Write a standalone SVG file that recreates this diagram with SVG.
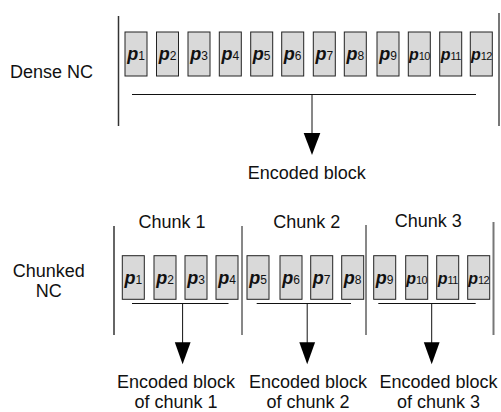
<svg xmlns="http://www.w3.org/2000/svg" width="501" height="412" viewBox="0 0 501 412">
<defs>
<style>
.lbl{font-family:"Liberation Sans",Arial,sans-serif;font-size:18px;fill:#111;text-anchor:middle}
.box{fill:#d9d9d9;stroke:#222;stroke-width:1}
.pt{font-family:"Liberation Sans",Arial,sans-serif;text-anchor:middle;fill:#111}
.p{font-weight:bold;font-style:italic;font-size:18px}
.s{font-size:12px}
.p2{font-weight:bold;font-style:italic;font-size:16px}
.s2{font-size:11px;letter-spacing:-0.6px}
.ln{stroke:#111;stroke-width:1;fill:none}
.outer{stroke:#333;stroke-width:1.5;fill:none}
.outerR{stroke:#777;stroke-width:2;fill:none}
.head{fill:#000}
</style>
</defs>
<rect width="501" height="412" fill="#fff"/>

<g id="labels">
<text class="lbl" x="51.5" y="77.5">Dense NC</text>
<text class="lbl" x="306.7" y="179">Encoded block</text>
<text class="lbl" x="48.8" y="276.7">Chunked</text>
<text class="lbl" x="48.8" y="296.7">NC</text>
<text class="lbl" x="172" y="228">Chunk 1</text>
<text class="lbl" x="306.8" y="228">Chunk 2</text>
<text class="lbl" x="428.3" y="226.7">Chunk 3</text>
<text class="lbl" x="176" y="387.5">Encoded block</text>
<text class="lbl" x="176" y="408.3">of chunk 1</text>
<text class="lbl" x="308" y="387.5">Encoded block</text>
<text class="lbl" x="308" y="408.3">of chunk 2</text>
<text class="lbl" x="438.5" y="387.5">Encoded block</text>
<text class="lbl" x="438.5" y="408.3">of chunk 3</text>
</g>

<g id="dense-blocks">
<g id="d1"><rect class="box" x="125" y="32" width="22" height="44"/><text class="pt" x="136" y="60"><tspan class="p">p</tspan><tspan class="s">1</tspan></text></g>
<g id="d2"><rect class="box" x="156.5" y="32" width="22" height="44"/><text class="pt" x="167.5" y="60"><tspan class="p">p</tspan><tspan class="s">2</tspan></text></g>
<g id="d3"><rect class="box" x="188" y="32" width="22" height="44"/><text class="pt" x="199" y="60"><tspan class="p">p</tspan><tspan class="s">3</tspan></text></g>
<g id="d4"><rect class="box" x="219.3" y="32" width="22" height="44"/><text class="pt" x="230.3" y="60"><tspan class="p">p</tspan><tspan class="s">4</tspan></text></g>
<g id="d5"><rect class="box" x="250.7" y="32" width="22" height="44"/><text class="pt" x="261.7" y="60"><tspan class="p">p</tspan><tspan class="s">5</tspan></text></g>
<g id="d6"><rect class="box" x="281.7" y="32" width="22" height="44"/><text class="pt" x="292.7" y="60"><tspan class="p">p</tspan><tspan class="s">6</tspan></text></g>
<g id="d7"><rect class="box" x="313.3" y="32" width="22" height="44"/><text class="pt" x="324.3" y="60"><tspan class="p">p</tspan><tspan class="s">7</tspan></text></g>
<g id="d8"><rect class="box" x="344.3" y="32" width="22" height="44"/><text class="pt" x="355.3" y="60"><tspan class="p">p</tspan><tspan class="s">8</tspan></text></g>
<g id="d9"><rect class="box" x="377" y="32" width="22" height="44"/><text class="pt" x="388" y="60"><tspan class="p">p</tspan><tspan class="s">9</tspan></text></g>
<g id="d10"><rect class="box" x="408.3" y="32" width="22" height="44"/><text class="pt" x="419.3" y="60"><tspan class="p2">p</tspan><tspan class="s2">10</tspan></text></g>
<g id="d11"><rect class="box" x="439.7" y="32" width="22" height="44"/><text class="pt" x="450.7" y="60"><tspan class="p2">p</tspan><tspan class="s2">11</tspan></text></g>
<g id="d12"><rect class="box" x="470.3" y="32" width="22" height="44"/><text class="pt" x="481.3" y="60"><tspan class="p2">p</tspan><tspan class="s2">12</tspan></text></g>
</g>

<g id="chunk-blocks">
<g id="c1"><rect class="box" x="122.3" y="255.7" width="22" height="43.6"/><text class="pt" x="133.3" y="283.5"><tspan class="p">p</tspan><tspan class="s">1</tspan></text></g>
<g id="c2"><rect class="box" x="154" y="255.7" width="22" height="43.6"/><text class="pt" x="165" y="283.5"><tspan class="p">p</tspan><tspan class="s">2</tspan></text></g>
<g id="c3"><rect class="box" x="185" y="255.7" width="22" height="43.6"/><text class="pt" x="196" y="283.5"><tspan class="p">p</tspan><tspan class="s">3</tspan></text></g>
<g id="c4"><rect class="box" x="216" y="255.7" width="22" height="43.6"/><text class="pt" x="227" y="283.5"><tspan class="p">p</tspan><tspan class="s">4</tspan></text></g>
<g id="c5"><rect class="box" x="247" y="255.7" width="22" height="43.6"/><text class="pt" x="258" y="283.5"><tspan class="p">p</tspan><tspan class="s">5</tspan></text></g>
<g id="c6"><rect class="box" x="280" y="255.7" width="22" height="43.6"/><text class="pt" x="291" y="283.5"><tspan class="p">p</tspan><tspan class="s">6</tspan></text></g>
<g id="c7"><rect class="box" x="310.7" y="255.7" width="22" height="43.6"/><text class="pt" x="321.7" y="283.5"><tspan class="p">p</tspan><tspan class="s">7</tspan></text></g>
<g id="c8"><rect class="box" x="341.7" y="255.7" width="22" height="43.6"/><text class="pt" x="352.7" y="283.5"><tspan class="p">p</tspan><tspan class="s">8</tspan></text></g>
<g id="c9"><rect class="box" x="373.7" y="255.7" width="22" height="43.6"/><text class="pt" x="384.7" y="283.5"><tspan class="p">p</tspan><tspan class="s">9</tspan></text></g>
<g id="c10"><rect class="box" x="405.7" y="255.7" width="22" height="43.6"/><text class="pt" x="416.7" y="283.5"><tspan class="p2">p</tspan><tspan class="s2">10</tspan></text></g>
<g id="c11"><rect class="box" x="436.7" y="255.7" width="22" height="43.6"/><text class="pt" x="447.7" y="283.5"><tspan class="p2">p</tspan><tspan class="s2">11</tspan></text></g>
<g id="c12"><rect class="box" x="467.7" y="255.7" width="22" height="43.6"/><text class="pt" x="478.7" y="283.5"><tspan class="p2">p</tspan><tspan class="s2">12</tspan></text></g>
</g>

<g id="connectors">
<line class="outer" x1="118.5" y1="16" x2="118.5" y2="126"/>
<line class="outerR" x1="499" y1="13" x2="499" y2="126"/>
<line class="ln" x1="132" y1="94.5" x2="476" y2="94.5"/>
<line class="ln" x1="312" y1="94.5" x2="312" y2="135"/>
<polygon class="head" points="303.7,133 320.3,133 312,155"/>

<line class="outer" x1="114" y1="226" x2="114" y2="335"/>
<line class="ln" x1="242" y1="226" x2="242" y2="335"/>
<line class="ln" x1="366" y1="225" x2="366" y2="335"/>
<line class="outerR" x1="493.5" y1="222" x2="493.5" y2="335"/>

<line class="ln" x1="132" y1="303.5" x2="228.5" y2="303.5"/>
<line class="ln" x1="256.7" y1="303.5" x2="351" y2="303.5"/>
<line class="ln" x1="378.3" y1="303.5" x2="475.7" y2="303.5"/>

<line class="ln" x1="182.6" y1="303.5" x2="182.6" y2="344"/>
<polygon class="head" points="174.8,342.3 190.6,342.3 182.6,364.3"/>
<line class="ln" x1="307.2" y1="303.5" x2="307.2" y2="344"/>
<polygon class="head" points="299.3,342.3 315.1,342.3 307.2,364.3"/>
<line class="ln" x1="431.7" y1="303.5" x2="431.7" y2="344"/>
<polygon class="head" points="423.8,342.3 439.6,342.3 431.7,364.3"/>
</g>
</svg>
